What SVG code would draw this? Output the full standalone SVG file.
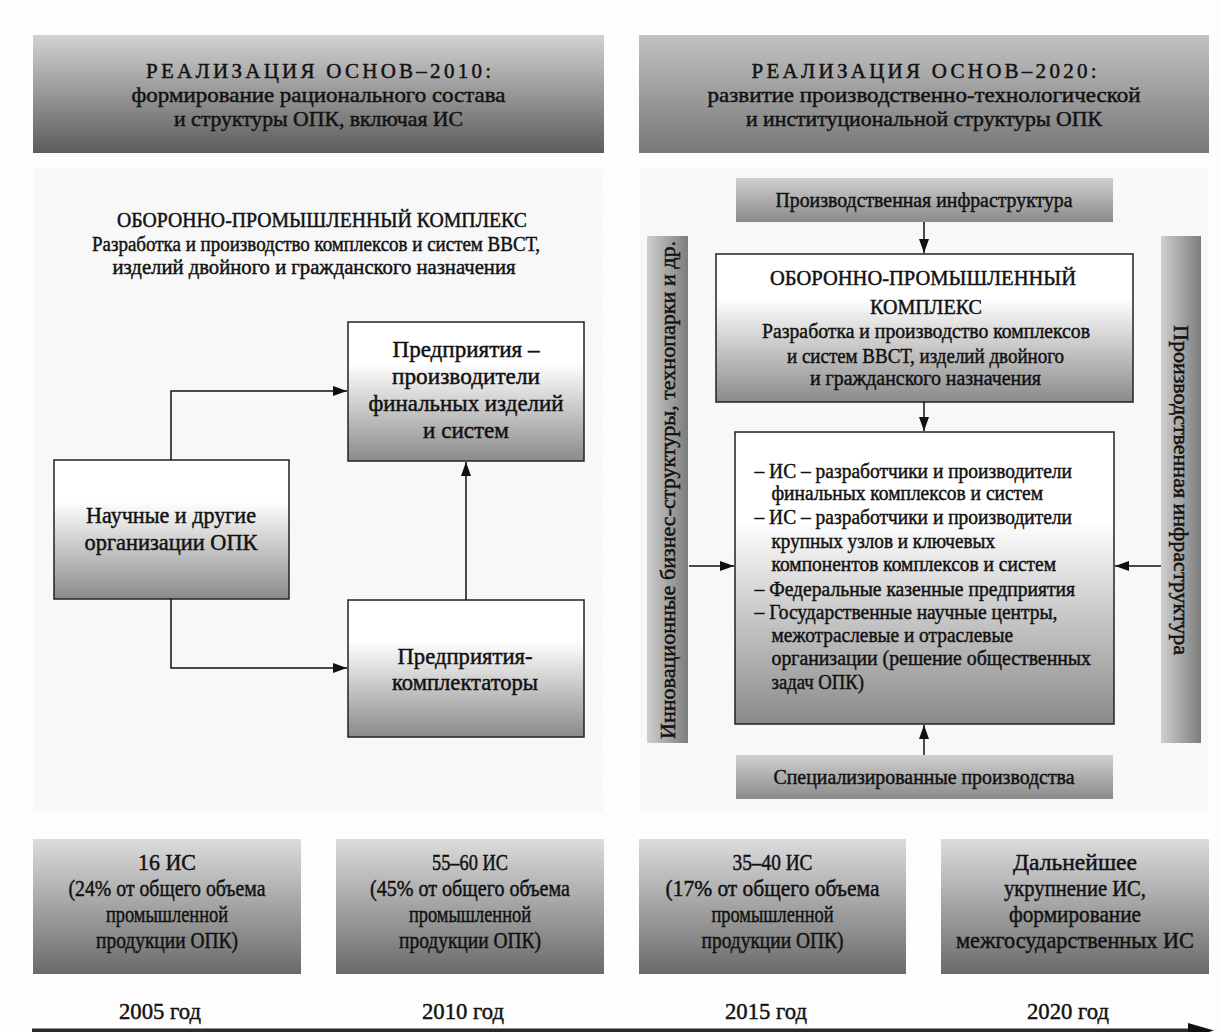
<svg xmlns="http://www.w3.org/2000/svg" width="1221" height="1032" viewBox="0 0 1221 1032">
<defs>
<linearGradient id="gHeadL" x1="0" y1="0" x2="0" y2="1"><stop offset="0" stop-color="#d2d2d2"/><stop offset="1" stop-color="#5c5c5c"/></linearGradient>
<linearGradient id="gHeadR" x1="0" y1="0" x2="0" y2="1"><stop offset="0" stop-color="#c2c2c2"/><stop offset="1" stop-color="#777777"/></linearGradient>
<linearGradient id="gWhite" x1="0" y1="0" x2="0" y2="1"><stop offset="0" stop-color="#ffffff"/><stop offset="0.3" stop-color="#ffffff"/><stop offset="1" stop-color="#8a8a8a"/></linearGradient>
<linearGradient id="gBar" x1="0" y1="0" x2="0" y2="1"><stop offset="0" stop-color="#d0d0d0"/><stop offset="1" stop-color="#8a8a8a"/></linearGradient>
<linearGradient id="gVBar" x1="0" y1="0" x2="1" y2="0"><stop offset="0" stop-color="#cfcfcf"/><stop offset="1" stop-color="#7c7c7c"/></linearGradient>
<linearGradient id="gBottom" x1="0" y1="0" x2="0" y2="1"><stop offset="0" stop-color="#dcdcdc"/><stop offset="1" stop-color="#6a6a6a"/></linearGradient>
<marker id="arr" viewBox="0 0 14 10" markerWidth="14" markerHeight="10" refX="14" refY="5" orient="auto" markerUnits="userSpaceOnUse"><path d="M0,0 L14,5 L0,10 z" fill="#111"/></marker>
</defs>
<style>
text{font-family:"Liberation Serif","Times New Roman",serif;fill:#111;stroke:#111;stroke-width:0.45;}
.c{text-anchor:middle;}
.h{font-size:21px;}
.t{font-size:21px;}
.b{font-size:23px;}
.s{font-size:20.5px;}
.y{font-size:24px;}
.box{stroke:#222;stroke-width:1.5;}
.conn{fill:none;stroke:#111;stroke-width:1.5;}
.panel{fill:#f8f8f8;stroke:#ffffff;stroke-width:1.5;stroke-dasharray:6 4;}
</style>
<rect x="0" y="0" width="1221" height="1032" fill="#fdfdfd"/>
<rect class="panel" x="33" y="167" width="571" height="645"/>
<rect class="panel" x="639" y="167" width="570" height="645"/>

<g id="header-left">
<rect x="33" y="35" width="571" height="118" fill="url(#gHeadL)"/>
<text class="h c" x="318.5" y="78" textLength="345" lengthAdjust="spacing">РЕАЛИЗАЦИЯ ОСНОВ–2010:</text>
<text class="h c" x="318.5" y="102" textLength="374" lengthAdjust="spacingAndGlyphs">формирование рационального состава</text>
<text class="h c" x="318.5" y="126" textLength="289" lengthAdjust="spacingAndGlyphs">и структуры ОПК, включая ИС</text>
</g>
<g id="header-right">
<rect x="639" y="35" width="570" height="118" fill="url(#gHeadR)"/>
<text class="h c" x="924" y="78" textLength="345" lengthAdjust="spacing">РЕАЛИЗАЦИЯ ОСНОВ–2020:</text>
<text class="h c" x="924" y="102" textLength="433" lengthAdjust="spacingAndGlyphs">развитие производственно-технологической</text>
<text class="h c" x="924" y="126" textLength="356" lengthAdjust="spacingAndGlyphs">и институциональной структуры ОПК</text>
</g>

<g id="title-left">
<text class="t c" x="322" y="227" textLength="410" lengthAdjust="spacingAndGlyphs">ОБОРОННО-ПРОМЫШЛЕННЫЙ КОМПЛЕКС</text>
<text class="s c" x="316" y="251" textLength="448" lengthAdjust="spacingAndGlyphs">Разработка и производство комплексов и систем ВВСТ,</text>
<text class="s c" x="314" y="274" textLength="403" lengthAdjust="spacingAndGlyphs">изделий двойного и гражданского назначения</text>
</g>

<g id="node-final">
<rect class="box" x="348" y="322" width="236" height="139" fill="url(#gWhite)"/>
<text class="b c" x="466" y="357" textLength="147" lengthAdjust="spacingAndGlyphs">Предприятия –</text>
<text class="b c" x="466" y="384" textLength="148" lengthAdjust="spacingAndGlyphs">производители</text>
<text class="b c" x="466" y="411" textLength="195" lengthAdjust="spacingAndGlyphs">финальных изделий</text>
<text class="b c" x="466" y="438" textLength="86" lengthAdjust="spacingAndGlyphs">и систем</text>
</g>
<g id="node-science">
<rect class="box" x="54" y="460" width="235" height="139" fill="url(#gWhite)"/>
<text class="b c" x="171" y="523" textLength="170" lengthAdjust="spacingAndGlyphs">Научные и другие</text>
<text class="b c" x="171" y="550" textLength="173" lengthAdjust="spacingAndGlyphs">организации ОПК</text>
</g>
<g id="node-compl">
<rect class="box" x="348" y="600" width="236" height="137" fill="url(#gWhite)"/>
<text class="b c" x="465" y="664" textLength="135" lengthAdjust="spacingAndGlyphs">Предприятия-</text>
<text class="b c" x="465" y="690" textLength="146" lengthAdjust="spacingAndGlyphs">комплектаторы</text>
</g>

<g id="node-prodinfra-top">
<rect x="736" y="178" width="377" height="44" fill="url(#gBar)"/>
<text class="s c" x="924" y="207" textLength="297" lengthAdjust="spacingAndGlyphs">Производственная инфраструктура</text>
</g>
<g id="node-innov">
<rect x="647" y="236" width="41" height="507" fill="url(#gVBar)"/>
<text class="s c" transform="translate(668,490) rotate(-90)" x="0" y="7" textLength="498" lengthAdjust="spacingAndGlyphs">Инновационные бизнес-структуры, технопарки и др.</text>
</g>
<g id="node-prodinfra-right">
<rect x="1161" y="236" width="40" height="507" fill="url(#gVBar)"/>
<text class="s c" transform="translate(1181,490) rotate(90)" x="0" y="7" textLength="330" lengthAdjust="spacingAndGlyphs">Производственная инфраструктура</text>
</g>
<g id="node-opk">
<rect class="box" x="716" y="254" width="417" height="148" fill="url(#gWhite)"/>
<text class="t c" x="923" y="285" textLength="306" lengthAdjust="spacingAndGlyphs">ОБОРОННО-ПРОМЫШЛЕННЫЙ</text>
<text class="t c" x="926" y="314" textLength="112" lengthAdjust="spacingAndGlyphs">КОМПЛЕКС</text>
<text class="s c" x="926" y="338" textLength="328" lengthAdjust="spacingAndGlyphs">Разработка и производство комплексов</text>
<text class="s c" x="925.5" y="363" textLength="277" lengthAdjust="spacingAndGlyphs">и систем ВВСТ, изделий двойного</text>
<text class="s c" x="925.5" y="385" textLength="231" lengthAdjust="spacingAndGlyphs">и гражданского назначения</text>
</g>
<g id="node-is">
<rect class="box" x="735" y="432" width="379" height="292" fill="url(#gWhite)"/>
<text class="s" x="754.5" y="478" textLength="317.5" lengthAdjust="spacingAndGlyphs">– ИС – разработчики и производители</text>
<text class="s" x="771.5" y="500" textLength="271.5" lengthAdjust="spacingAndGlyphs">финальных комплексов и систем</text>
<text class="s" x="754.5" y="524" textLength="317.5" lengthAdjust="spacingAndGlyphs">– ИС – разработчики и производители</text>
<text class="s" x="771.5" y="548" textLength="223.5" lengthAdjust="spacingAndGlyphs">крупных узлов и ключевых</text>
<text class="s" x="771.5" y="571" textLength="284.5" lengthAdjust="spacingAndGlyphs">компонентов комплексов и систем</text>
<text class="s" x="754.5" y="596" textLength="320.5" lengthAdjust="spacingAndGlyphs">– Федеральные казенные предприятия</text>
<text class="s" x="754.5" y="619" textLength="303" lengthAdjust="spacingAndGlyphs">– Государственные научные центры,</text>
<text class="s" x="771.5" y="642" textLength="241.5" lengthAdjust="spacingAndGlyphs">межотраслевые и отраслевые</text>
<text class="s" x="771.5" y="665" textLength="319.5" lengthAdjust="spacingAndGlyphs">организации (решение общественных</text>
<text class="s" x="771.5" y="689" textLength="92.5" lengthAdjust="spacingAndGlyphs">задач ОПК)</text>
</g>
<g id="node-special">
<rect x="736" y="755" width="377" height="44" fill="url(#gBar)"/>
<text class="s c" x="924" y="784" textLength="301" lengthAdjust="spacingAndGlyphs">Специализированные производства</text>
</g>

<g id="node-2005">
<rect x="33" y="839" width="268" height="135" fill="url(#gBottom)"/>
<text class="b c" x="167" y="870" textLength="58" lengthAdjust="spacingAndGlyphs">16 ИС</text>
<text class="b c" x="167" y="896" textLength="197" lengthAdjust="spacingAndGlyphs">(24% от общего объема</text>
<text class="b c" x="167" y="922" textLength="122" lengthAdjust="spacingAndGlyphs">промышленной</text>
<text class="b c" x="167" y="948" textLength="142" lengthAdjust="spacingAndGlyphs">продукции ОПК)</text>
</g>
<g id="node-2010">
<rect x="336" y="839" width="268" height="135" fill="url(#gBottom)"/>
<text class="b c" x="470" y="870" textLength="76" lengthAdjust="spacingAndGlyphs">55–60 ИС</text>
<text class="b c" x="470" y="896" textLength="200" lengthAdjust="spacingAndGlyphs">(45% от общего объема</text>
<text class="b c" x="470" y="922" textLength="122" lengthAdjust="spacingAndGlyphs">промышленной</text>
<text class="b c" x="470" y="948" textLength="142" lengthAdjust="spacingAndGlyphs">продукции ОПК)</text>
</g>
<g id="node-2015">
<rect x="639" y="839" width="267" height="135" fill="url(#gBottom)"/>
<text class="b c" x="772.5" y="870" textLength="80" lengthAdjust="spacingAndGlyphs">35–40 ИС</text>
<text class="b c" x="772.5" y="896" textLength="214" lengthAdjust="spacingAndGlyphs">(17% от общего объема</text>
<text class="b c" x="772.5" y="922" textLength="122" lengthAdjust="spacingAndGlyphs">промышленной</text>
<text class="b c" x="772.5" y="948" textLength="142" lengthAdjust="spacingAndGlyphs">продукции ОПК)</text>
</g>
<g id="node-2020">
<rect x="941" y="839" width="268" height="135" fill="url(#gBottom)"/>
<text class="b c" x="1075" y="870" textLength="124" lengthAdjust="spacingAndGlyphs">Дальнейшее</text>
<text class="b c" x="1075" y="896" textLength="142" lengthAdjust="spacingAndGlyphs">укрупнение ИС,</text>
<text class="b c" x="1075" y="922" textLength="132" lengthAdjust="spacingAndGlyphs">формирование</text>
<text class="b c" x="1075" y="948" textLength="238" lengthAdjust="spacingAndGlyphs">межгосударственных ИС</text>
</g>

<g id="timeline">
<text class="y c" x="160" y="1019" textLength="82" lengthAdjust="spacingAndGlyphs">2005 год</text>
<text class="y c" x="463" y="1019" textLength="82" lengthAdjust="spacingAndGlyphs">2010 год</text>
<text class="y c" x="766" y="1019" textLength="82" lengthAdjust="spacingAndGlyphs">2015 год</text>
<text class="y c" x="1068" y="1019" textLength="82" lengthAdjust="spacingAndGlyphs">2020 год</text>
<line x1="32" y1="1030.5" x2="1196" y2="1030.5" stroke="#2a2a2a" stroke-width="4"/>
<polygon points="1188,1023 1214,1030.5 1188,1038" fill="#111"/>
</g>

<g id="connectors">
<path class="conn" d="M171,460 V391 H347" marker-end="url(#arr)"/>
<path class="conn" d="M171,599 V668 H347" marker-end="url(#arr)"/>
<path class="conn" d="M466,600 V462" marker-end="url(#arr)"/>
<path class="conn" d="M924,222 V253" marker-end="url(#arr)"/>
<path class="conn" d="M924,402 V431" marker-end="url(#arr)"/>
<path class="conn" d="M924,755 V725" marker-end="url(#arr)"/>
<path class="conn" d="M689,566 H734" marker-end="url(#arr)"/>
<path class="conn" d="M1161,566 H1115" marker-end="url(#arr)"/>
</g>
</svg>
